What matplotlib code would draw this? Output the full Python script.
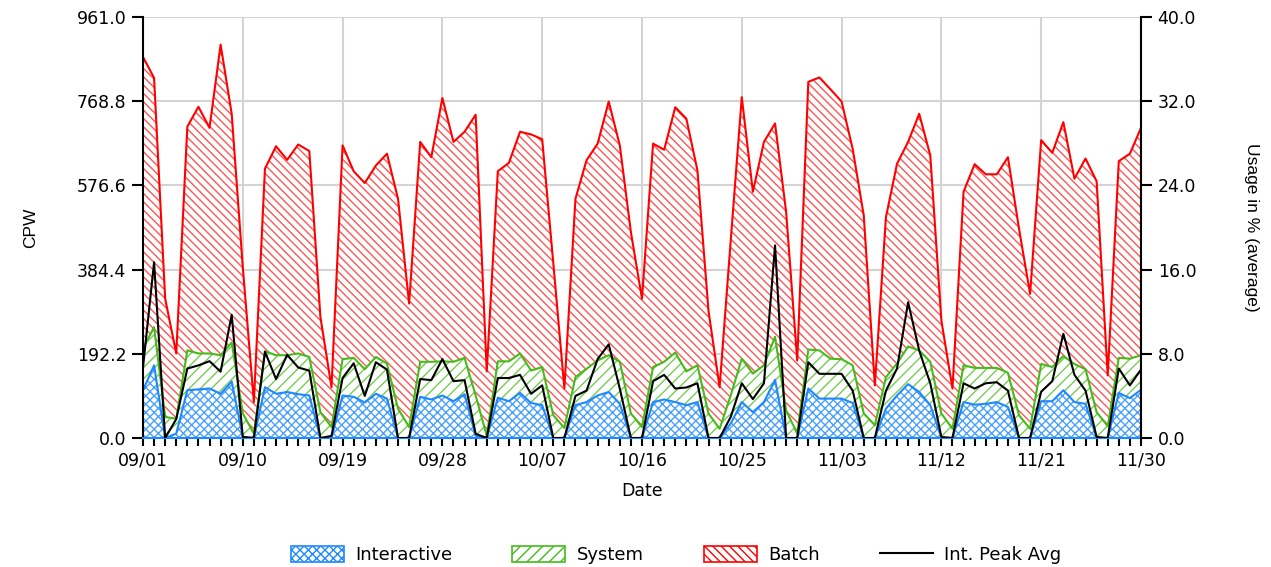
import numpy as np
import pandas as pd
import matplotlib
matplotlib.use("Agg")
import matplotlib.pyplot as plt
from matplotlib.patches import Patch
from matplotlib.lines import Line2D

plt.rcParams['font.family'] = ['DejaVu Sans']
plt.rcParams['hatch.linewidth'] = 1.0

# daily values 09/01 .. 11/30
dates = pd.date_range('2023-09-01', '2023-11-30', freq='D')

interactive = [109, 166, 0, 10, 109, 111, 113, 101, 129, 2,
               0, 116, 101, 105, 100, 97, 0, 0, 97, 94,
               81, 101, 90, 0, 0, 94, 88, 97, 84, 100,
               5, 0, 92, 84, 103, 80, 75, 0, 0, 75,
               82, 97, 105, 78, 0, 0, 82, 88, 82, 75,
               82, 0, 0, 33, 82, 59, 82, 133, 0, 0,
               113, 90, 90, 90, 80, 0, 0, 67, 97, 123,
               105, 75, 0, 0, 82, 76, 78, 82, 71, 0,
               0, 84, 84, 109, 82, 78, 0, 0, 103, 91,
               110]
system = [95, 87, 48, 34, 91, 82, 80, 88, 89, 54,
          10, 82, 88, 84, 93, 88, 59, 25, 83, 89,
          76, 84, 80, 67, 25, 80, 86, 78, 90, 83,
          92, 5, 83, 91, 90, 74, 87, 52, 23, 64,
          76, 80, 84, 96, 56, 25, 80, 86, 113, 77,
          84, 56, 21, 64, 99, 88, 84, 98, 63, 10,
          89, 110, 91, 90, 86, 56, 29, 72, 73, 86,
          95, 99, 56, 21, 84, 84, 82, 78, 78, 52,
          21, 85, 78, 78, 87, 79, 59, 27, 80, 90,
          79]
batch = [666, 569, 270, 149, 511, 563, 515, 709, 522, 334,
         72, 417, 477, 446, 477, 470, 217, 91, 488, 426,
         425, 437, 479, 479, 282, 502, 467, 601, 502, 516,
         641, 147, 434, 453, 506, 539, 520, 348, 90, 407,
         476, 495, 579, 494, 414, 293, 510, 484, 560, 577,
         445, 234, 95, 353, 597, 415, 510, 487, 453, 167,
         611, 623, 615, 588, 494, 452, 91, 365, 456, 467,
         540, 471, 212, 92, 396, 465, 442, 442, 492, 426,
         308, 511, 489, 534, 423, 481, 527, 116, 449, 468,
         519]
# interactive peak average, in %
peak_avg = [6.7, 16.7, 0.0, 1.8, 6.6, 6.9, 7.3, 6.3, 11.7, 0.1,
            0.0, 8.2, 5.6, 7.9, 6.7, 6.4, 0.0, 0.2, 5.7, 7.1,
            4.0, 7.2, 6.5, 0.0, 0.0, 5.6, 5.5, 7.5, 5.4, 5.5,
            0.4, 0.0, 5.7, 5.7, 6.0, 4.2, 5.0, 0.0, 0.0, 4.0,
            4.5, 7.5, 8.9, 4.7, 0.0, 0.0, 5.4, 6.0, 4.7, 4.8,
            5.2, 0.0, 0.0, 2.0, 5.2, 3.7, 5.2, 18.3, 0.0, 0.0,
            7.2, 6.1, 6.1, 6.1, 4.5, 0.0, 0.0, 4.5, 6.6, 12.9,
            8.3, 5.2, 0.1, 0.0, 5.2, 4.7, 5.2, 5.3, 4.5, 0.0,
            0.0, 4.4, 5.4, 9.9, 6.0, 4.5, 0.1, 0.0, 6.6, 5.0,
            6.5]

cpw_max = 961.0
pct_max = 40.0

blue = '#1e88ff'
green = '#44bb1a'
red = '#ff0000'
# lighter colours for the hatching
blue_h = '#4aa0ff'
green_h = '#77cc55'
red_h = '#ff5555'

x = np.arange(len(dates))
lvl1 = np.array(interactive, dtype=float)
lvl2 = lvl1 + np.array(system)
lvl3 = lvl2 + np.array(batch)

fig = plt.figure(figsize=(12.71, 5.67), dpi=100)
ax = fig.add_axes([0.1125, 0.2275, 0.7852, 0.7425])

ax.fill_between(x, 0, lvl1, facecolor='white', edgecolor=blue_h, hatch='xxxx', linewidth=0)
ax.fill_between(x, lvl1, lvl2, facecolor='white', edgecolor=green_h, hatch='///', linewidth=0)
ax.fill_between(x, lvl2, lvl3, facecolor='white', edgecolor=red_h, hatch='\\\\\\\\', linewidth=0)
ax.plot(x, lvl1, color=blue, lw=1.5)
ax.plot(x, lvl2, color=green, lw=1.5)
ax.plot(x, lvl3, color=red, lw=1.5)
ax.plot([x[-1], x[-1]], [0, lvl3[-1]], color=red, lw=1.5)

ax.set_xlim(x[0], x[-1])
ax.set_ylim(0, cpw_max)
yt = np.linspace(0, cpw_max, 6)
ax.set_yticks(yt)
ax.set_yticklabels(['%.1f' % v for v in yt])
major = x[::9]
ax.set_xticks(major)
ax.set_xticklabels([d.strftime('%m/%d') for d in dates[::9]])
ax.set_xticks(x, minor=True)
ax.grid(True, which='major', color='#d3d3d3', lw=1.5)
ax.set_axisbelow(True)
ax.tick_params(axis='both', which='both', direction='out', colors='black', labelsize=12.5)
ax.tick_params(axis='y', length=8, width=1.5, pad=4)
ax.tick_params(axis='x', which='both', length=6, width=1.5, pad=4)
for s in ['top', 'right']:
    ax.spines[s].set_visible(False)
ax.spines['left'].set_linewidth(1.5)
ax.spines['bottom'].set_color(blue)
ax.spines['bottom'].set_linewidth(1.5)
ax.set_ylabel('CPW', fontsize=12.5, family='Liberation Sans', labelpad=28)
ax.set_xlabel('Date', fontsize=12.5, labelpad=9)

ax2 = ax.twinx()
ax2.plot(x, peak_avg, color='black', lw=1.5)
ax2.set_ylim(0, pct_max)
yt2 = np.linspace(0, pct_max, 6)
ax2.set_yticks(yt2)
ax2.set_yticklabels(['%.1f' % v for v in yt2])
ax2.tick_params(axis='y', direction='out', length=8, width=1.5, pad=4, labelsize=12.5)
for s in ['top', 'left', 'bottom']:
    ax2.spines[s].set_visible(False)
ax2.spines['right'].set_linewidth(1.5)
ax2.set_ylabel('Usage in % (average)', fontsize=12.5, family='Liberation Sans',
               rotation=270, labelpad=45)

handles = [Patch(facecolor='white', edgecolor=blue, hatch='xxxx', lw=1.2),
           Patch(facecolor='white', edgecolor=green, hatch='///', lw=1.2),
           Patch(facecolor='white', edgecolor=red, hatch='\\\\\\\\', lw=1.2),
           Line2D([], [], color='black', lw=1.5)]
fig.legend(handles, ['Interactive', 'System', 'Batch', 'Int. Peak Avg'],
           loc='center', bbox_to_anchor=(0.532, 0.021), ncol=4, frameon=False,
           fontsize=13, handlelength=2.93, handleheight=1.0, handletextpad=0.66,
           columnspacing=3.3)

fig.savefig('out.png', dpi=100)
